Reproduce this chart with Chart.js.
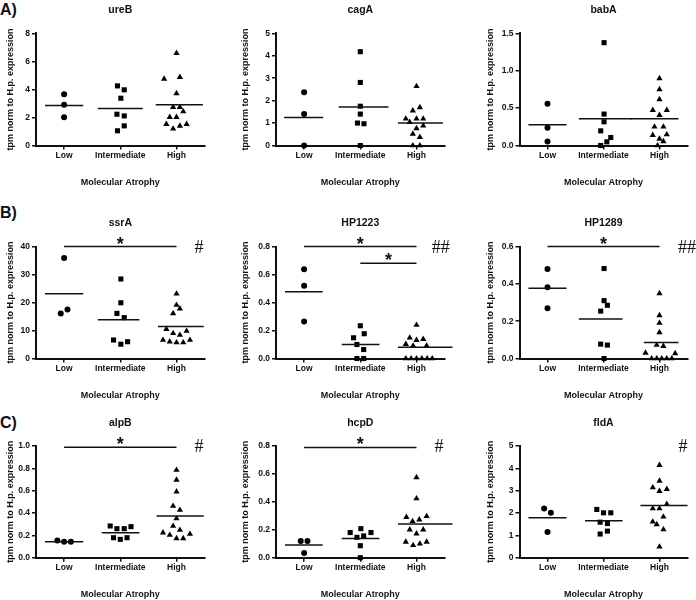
<!DOCTYPE html>
<html>
<head>
<meta charset="utf-8">
<script src="https://cdn.jsdelivr.net/npm/chart.js@4.4.1/dist/chart.umd.min.js"></script>
<style>
  html, body { margin: 0; padding: 0; background: #fff; }
  #fig { position: relative; width: 696px; height: 600px; overflow: hidden; }
  #fig canvas { position: absolute; }
  .letter { position: absolute; left: 0; font: bold 16px 'Liberation Sans', Arial, sans-serif; line-height: 20px; color: #111; }
</style>
</head>
<body>
<div id="fig">
  <div class="letter" style="top:0px">A)</div>
  <div class="letter" style="top:203px">B)</div>
  <div class="letter" style="top:413px">C)</div>
</div>
<script>
const groups = ['Low', 'Intermediate', 'High'];
const genes = ['ureB', 'cagA', 'babA', 'ssrA', 'HP1223', 'HP1289', 'alpB', 'hcpD', 'fldA'];
const yTitle = 'tpm norm to H.p. expression';
const xTitle = 'Molecular Atrophy';

// y axis per panel
const yMax = [8, 5, 1.5, 40, 0.8, 0.6, 1.0, 0.8, 5];
const yStep = [2, 1, 0.5, 10, 0.2, 0.2, 0.2, 0.2, 1];
const yDecimals = [0, 0, 1, 0, 1, 1, 1, 1, 0];

// points: [jitter around the group, value]
const ureBLow = [[0, 3.66], [0, 2.90], [0, 2.02]];
const ureBInt = [[-0.05, 4.25], [0.07, 3.97], [0.01, 3.37], [-0.06, 2.23], [0.07, 2.11], [0.07, 1.40], [-0.05, 1.05]];
const ureBHigh = [[0, 6.58], [-0.22, 4.75], [0.06, 4.87], [0, 3.71], [-0.06, 2.73], [0.06, 2.73], [0.12, 2.42],
  [-0.12, 2.02], [0, 2.02], [-0.18, 1.52], [0.06, 1.40], [0.18, 1.52], [-0.06, 1.19]];
const ureBMean = [2.85, 2.64, 2.90];

const cagALow = [[0, 2.37], [0, 1.40], [0, 0]];
const cagAInt = [[0, 4.18], [0, 2.81], [0, 1.75], [0, 1.40], [-0.05, 1.00], [0.065, 0.97], [0, 0]];
const cagAHigh = [[0, 2.64], [-0.065, 1.55], [0.06, 1.70], [-0.19, 1.19], [0, 1.19], [0.12, 1.19], [-0.12, 1.04],
  [0, 0.76], [0.12, 0.88], [-0.065, 0.52], [0.06, 0.37], [-0.065, 0], [0.06, 0]];
const cagAMean = [1.25, 1.72, 1.0];

const babALow = [[0, 0.558], [0, 0.237], [0, 0.054]];
const babAInt = [[0.01, 1.375], [0.01, 0.42], [0.01, 0.317], [-0.05, 0.196], [0.13, 0.107], [0.06, 0.049], [-0.05, 0]];
const babAHigh = [[0, 0.897], [0, 0.75], [0, 0.616], [-0.12, 0.473], [0.13, 0.473], [0, 0.406], [-0.09, 0.25],
  [0.07, 0.25], [-0.12, 0.138], [0.13, 0.147], [0, 0.089], [0.07, 0.054], [-0.035, 0]];
const babAMean = [0.277, 0.357, 0.357];

const ssrALow = [[0, 35.9], [-0.06, 16.1], [0.06, 17.5]];
const ssrAInt = [[0.01, 28.4], [0.01, 19.9], [-0.06, 16.1], [0.07, 14.6], [-0.12, 6.6], [0.01, 5.1], [0.13, 6.0]];
const ssrAHigh = [[0, 23.1], [0, 19.1], [-0.06, 16.1], [0.06, 17.8], [-0.18, 10.5], [-0.06, 9.0], [0.06, 8.4],
  [0.18, 9.8], [-0.24, 6.6], [-0.12, 6.0], [0, 5.7], [0.12, 5.7], [0.24, 6.6]];
const ssrAMean = [23.1, 13.8, 11.4];

const hp1223Low = [[0, 0.637], [0, 0.52], [0, 0.265]];
const hp1223Int = [[0, 0.234], [-0.12, 0.148], [0.07, 0.177], [-0.06, 0.10], [0.06, 0.064], [-0.06, 0], [0.06, 0]];
const hp1223High = [[0, 0.239], [-0.12, 0.148], [0, 0.131], [0.12, 0.138], [-0.19, 0.103], [-0.06, 0.091], [0.18, 0.091],
  [-0.19, 0], [-0.095, 0], [0, 0], [0.095, 0], [0.19, 0], [0.28, 0]];
const hp1223Mean = [0.477, 0.10, 0.081];

const hp1289Low = [[0, 0.479], [0, 0.382], [0, 0.269]];
const hp1289Int = [[0.01, 0.482], [0.01, 0.31], [0.07, 0.285], [-0.05, 0.254], [-0.05, 0.077], [0.07, 0.072], [0.01, 0]];
const hp1289High = [[0, 0.349], [0, 0.231], [0, 0.19], [0, 0.14], [-0.05, 0.072], [0.07, 0.066], [-0.25, 0.03],
  [0.28, 0.027], [-0.14, 0], [-0.05, 0], [0.04, 0], [0.13, 0], [0.22, 0]];
const hp1289Mean = [0.376, 0.211, 0.086];

const alpBLow = [[-0.12, 0.155], [0, 0.143], [0.12, 0.143]];
const alpBInt = [[-0.18, 0.284], [-0.06, 0.26], [0.07, 0.26], [0.19, 0.278], [-0.12, 0.179], [0, 0.164], [0.12, 0.179]];
const alpBHigh = [[0, 0.785], [0, 0.696], [0, 0.591], [-0.06, 0.463], [0.06, 0.427], [0, 0.352], [-0.06, 0.284],
  [0.06, 0.248], [-0.24, 0.224], [-0.12, 0.203], [0.24, 0.212], [0, 0.173], [0.12, 0.173]];
const alpBMean = [0.143, 0.224, 0.373];

const hcpDLow = [[-0.06, 0.12], [0.06, 0.12], [0, 0.034]];
const hcpDInt = [[-0.18, 0.18], [0.01, 0.208], [0.19, 0.18], [-0.06, 0.146], [0.06, 0.156], [0, 0.086], [0, 0]];
const hcpDHigh = [[0, 0.575], [0, 0.424], [-0.18, 0.29], [0.18, 0.297], [-0.07, 0.261], [0.05, 0.273], [-0.12, 0.201],
  [0.12, 0.201], [0, 0.172], [-0.19, 0.113], [-0.06, 0.089], [0.06, 0.10], [0.18, 0.113]];
const hcpDMean = [0.091, 0.137, 0.242];

const fldALow = [[-0.06, 2.20], [0.06, 2.01], [0, 1.15]];
const fldAInt = [[-0.12, 2.16], [0, 2.01], [0.13, 2.01], [-0.06, 1.59], [0.07, 1.53], [-0.06, 1.06], [0.07, 1.19]];
const fldAHigh = [[0, 4.14], [0, 3.44], [-0.12, 3.14], [0, 2.98], [0.13, 3.07], [0.13, 2.40], [-0.12, 2.20],
  [0, 2.20], [0.07, 1.83], [-0.12, 1.61], [-0.05, 1.49], [0.07, 1.26], [0, 0.49]];
const fldAMean = [1.79, 1.65, 2.34];

// significance bars: [from group, to group, y value]
const sigBars = [[], [], [], [[1, 3, 40]], [[1, 3, 0.8], [2, 3, 0.68]], [[1, 3, 0.6]], [[1, 3, 0.988]], [[1, 3, 0.79]], []];
const hashes = ['', '', '', '#', '##', '##', '#', '#', '#'];

const points = [
  [ureBLow, ureBInt, ureBHigh], [cagALow, cagAInt, cagAHigh], [babALow, babAInt, babAHigh],
  [ssrALow, ssrAInt, ssrAHigh], [hp1223Low, hp1223Int, hp1223High], [hp1289Low, hp1289Int, hp1289High],
  [alpBLow, alpBInt, alpBHigh], [hcpDLow, hcpDInt, hcpDHigh], [fldALow, fldAInt, fldAHigh]
];
const means = [ureBMean, cagAMean, babAMean, ssrAMean, hp1223Mean, hp1289Mean, alpBMean, hcpDMean, fldAMean];

// ---- layout / style ----
const W = 232, H = 205;
const FONT = "'Liberation Sans', Arial, sans-serif";
const cols = [
  { x: 0, left: 36, right: 204.6, yTitle: 11 },
  { x: 232, left: 276, right: 444.6, yTitle: 246 },
  { x: 464, left: 519.5, right: 687.5, yTitle: 491 }
];
const rows = [
  { y: 0, top: 33.3, bottom: 145.5 },
  { y: 200, top: 246.5, bottom: 358.5 },
  { y: 400, top: 446, bottom: 557.7 }
];
const hashX = [0, 0, 0, 3.40, 3.43, 3.49, 3.40, 3.40, 3.42];
// mean line extent around each group centre
const meanSpans = [
  [[-0.34, 0.34], [-0.40, 0.40], [-0.37, 0.47]],
  [[-0.355, 0.34], [-0.385, 0.50], [-0.33, 0.47]],
  [[-0.34, 0.34], [-0.44, 0.50], [-0.52, 0.34]],
  [[-0.34, 0.34], [-0.40, 0.34], [-0.33, 0.485]],
  [[-0.34, 0.33], [-0.33, 0.34], [-0.33, 0.64]],
  [[-0.34, 0.34], [-0.44, 0.34], [-0.28, 0.34]],
  [[-0.34, 0.34], [-0.33, 0.34], [-0.355, 0.485]],
  [[-0.34, 0.33], [-0.33, 0.34], [-0.33, 0.64]],
  [[-0.34, 0.34], [-0.33, 0.34], [-0.34, 0.50]]
];
const markers = [
  { style: 'circle', radius: 3.0 },
  { style: 'rect', radius: 3.6 },
  { style: 'triangle', radius: 3.6 }
];
const INK = '#111';

const panelText = {
  id: 'panelText',
  afterDatasetsDraw(chart, args, o) {
    const { ctx, chartArea: a } = chart;
    const x = chart.scales.x, y = chart.scales.y;
    const cx = (a.left + a.right) / 2;
    ctx.save();
    ctx.fillStyle = INK;
    ctx.strokeStyle = INK;
    ctx.textAlign = 'center';
    ctx.textBaseline = 'middle';
    ctx.font = `bold 10.5px ${FONT}`;
    ctx.fillText(o.title, cx, a.top - 23);
    ctx.font = `bold 9px ${FONT}`;
    ctx.fillText(xTitle, cx, a.bottom + 37);
    ctx.save();
    ctx.translate(o.yTitleX, (a.top + a.bottom) / 2);
    ctx.rotate(-Math.PI / 2);
    ctx.fillText(yTitle, 0, 0);
    ctx.restore();

    ctx.lineWidth = 1.5;
    o.sig.forEach(([from, to, value]) => {
      const py = y.getPixelForValue(value);
      const x0 = x.getPixelForValue(from);
      const x1 = x.getPixelForValue(to);
      ctx.beginPath();
      ctx.moveTo(x0, py);
      ctx.lineTo(x1, py);
      ctx.stroke();
      ctx.font = `bold 18px ${FONT}`;
      ctx.textBaseline = 'alphabetic';
      ctx.fillText('*', (x0 + x1) / 2, py + 3);
    });
    if (o.hash) {
      ctx.font = "18px 'Liberation Serif', 'Times New Roman', serif";
      ctx.textBaseline = 'middle';
      ctx.fillText(o.hash, x.getPixelForValue(o.hashX), a.top + 1.5);
    }
    ctx.restore();
  }
};

function axisGrid() {
  return { drawOnChartArea: false, drawTicks: true, tickLength: 4, tickColor: INK, tickWidth: 1.5, lineWidth: 1.5 };
}

function buildPanel(i) {
  const col = cols[i % 3];
  const row = rows[Math.floor(i / 3)];
  const left = col.left - col.x;
  const right = col.right - col.x;
  const top = row.top - row.y;
  const bottom = row.bottom - row.y;

  const canvas = document.createElement('canvas');
  canvas.width = W;
  canvas.height = H;
  canvas.style.left = col.x + 'px';
  canvas.style.top = row.y + 'px';
  canvas.style.width = W + 'px';
  canvas.style.height = H + 'px';
  document.getElementById('fig').appendChild(canvas);

  const datasets = [];
  groups.forEach((g, k) => {
    const centre = k + 1;
    const span = meanSpans[i][k];
    datasets.push({
      label: g + ' mean',
      data: [{ x: centre + span[0], y: means[i][k] }, { x: centre + span[1], y: means[i][k] }],
      showLine: true,
      borderColor: INK,
      borderWidth: 1.5,
      pointRadius: 0,
      clip: false
    });
    datasets.push({
      label: g,
      data: points[i][k].map(([dx, v]) => ({ x: centre + dx, y: v })),
      pointStyle: markers[k].style,
      pointRadius: markers[k].radius,
      backgroundColor: '#000',
      borderColor: '#000',
      borderWidth: 0,
      clip: false
    });
  });

  const tickFont = { family: FONT, size: 8.5, weight: 'bold' };

  new Chart(canvas, {
    type: 'scatter',
    data: { datasets },
    options: {
      responsive: false,
      animation: false,
      events: [],
      layout: { padding: { left: 0, top, right: W - right, bottom: 0 } },
      plugins: {
        legend: { display: false },
        tooltip: { enabled: false },
        panelText: {
          title: genes[i],
          yTitleX: col.yTitle - col.x,
          sig: sigBars[i],
          hash: hashes[i],
          hashX: hashX[i]
        }
      },
      scales: {
        x: {
          type: 'linear',
          min: 0.5,
          max: 3.5,
          afterBuildTicks: (s) => { s.ticks = [1, 2, 3].map((v) => ({ value: v })); },
          afterFit: (s) => { s.height = H - bottom; },
          ticks: { callback: (v) => groups[v - 1], font: tickFont, color: INK, padding: 1, maxRotation: 0, autoSkip: false },
          grid: axisGrid(),
          border: { display: true, color: INK, width: 2 }
        },
        y: {
          min: 0,
          max: yMax[i],
          afterFit: (s) => { s.width = left; },
          ticks: {
            stepSize: yStep[i],
            callback: (v) => Number(v).toFixed(yDecimals[i]),
            font: tickFont,
            color: INK,
            padding: 2
          },
          grid: axisGrid(),
          border: { display: true, color: INK, width: 2 }
        }
      }
    },
    plugins: [panelText]
  });
}

genes.forEach((g, i) => buildPanel(i));
</script>
</body>
</html>
